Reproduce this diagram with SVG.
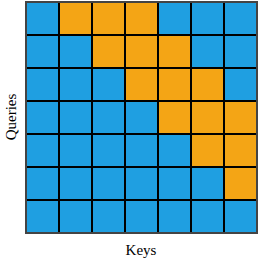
<svg xmlns="http://www.w3.org/2000/svg" width="258" height="260" viewBox="0 0 258 260">
<style>
.b{fill:#1f9fe1}
.o{fill:#f4a515}
.grid line{stroke:#000;stroke-width:2}
.lbl{font-family:"Liberation Serif",serif;font-size:15px;fill:#000}
</style>
<rect width="258" height="260" fill="#fff"/>
<g id="cells">
<rect class="b" x="26" y="2" width="231" height="231"/>
<rect class="o" x="59" y="2" width="99" height="33"/>
<rect class="o" x="92" y="35" width="99" height="33"/>
<rect class="o" x="125" y="68" width="99" height="33"/>
<rect class="o" x="158" y="101" width="99" height="33"/>
<rect class="o" x="191" y="134" width="66" height="33"/>
<rect class="o" x="224" y="167" width="33" height="33"/>
</g>
<g id="connectors" class="grid">
<line x1="59" y1="2" x2="59" y2="233"/>
<line x1="92" y1="2" x2="92" y2="233"/>
<line x1="125" y1="2" x2="125" y2="233"/>
<line x1="158" y1="2" x2="158" y2="233"/>
<line x1="191" y1="2" x2="191" y2="233"/>
<line x1="224" y1="2" x2="224" y2="233"/>
<line x1="26" y1="35" x2="257" y2="35"/>
<line x1="26" y1="68" x2="257" y2="68"/>
<line x1="26" y1="101" x2="257" y2="101"/>
<line x1="26" y1="134" x2="257" y2="134"/>
<line x1="26" y1="167" x2="257" y2="167"/>
<line x1="26" y1="200" x2="257" y2="200"/>
</g>
<rect id="frame" x="26" y="2" width="231" height="231" fill="none" stroke="#444" stroke-width="2"/>
<g id="label-keys"><text class="lbl" x="141" y="255" text-anchor="middle">Keys</text></g>
<g id="label-queries"><text class="lbl" transform="translate(16,117) rotate(-90)" text-anchor="middle">Queries</text></g>
</svg>
